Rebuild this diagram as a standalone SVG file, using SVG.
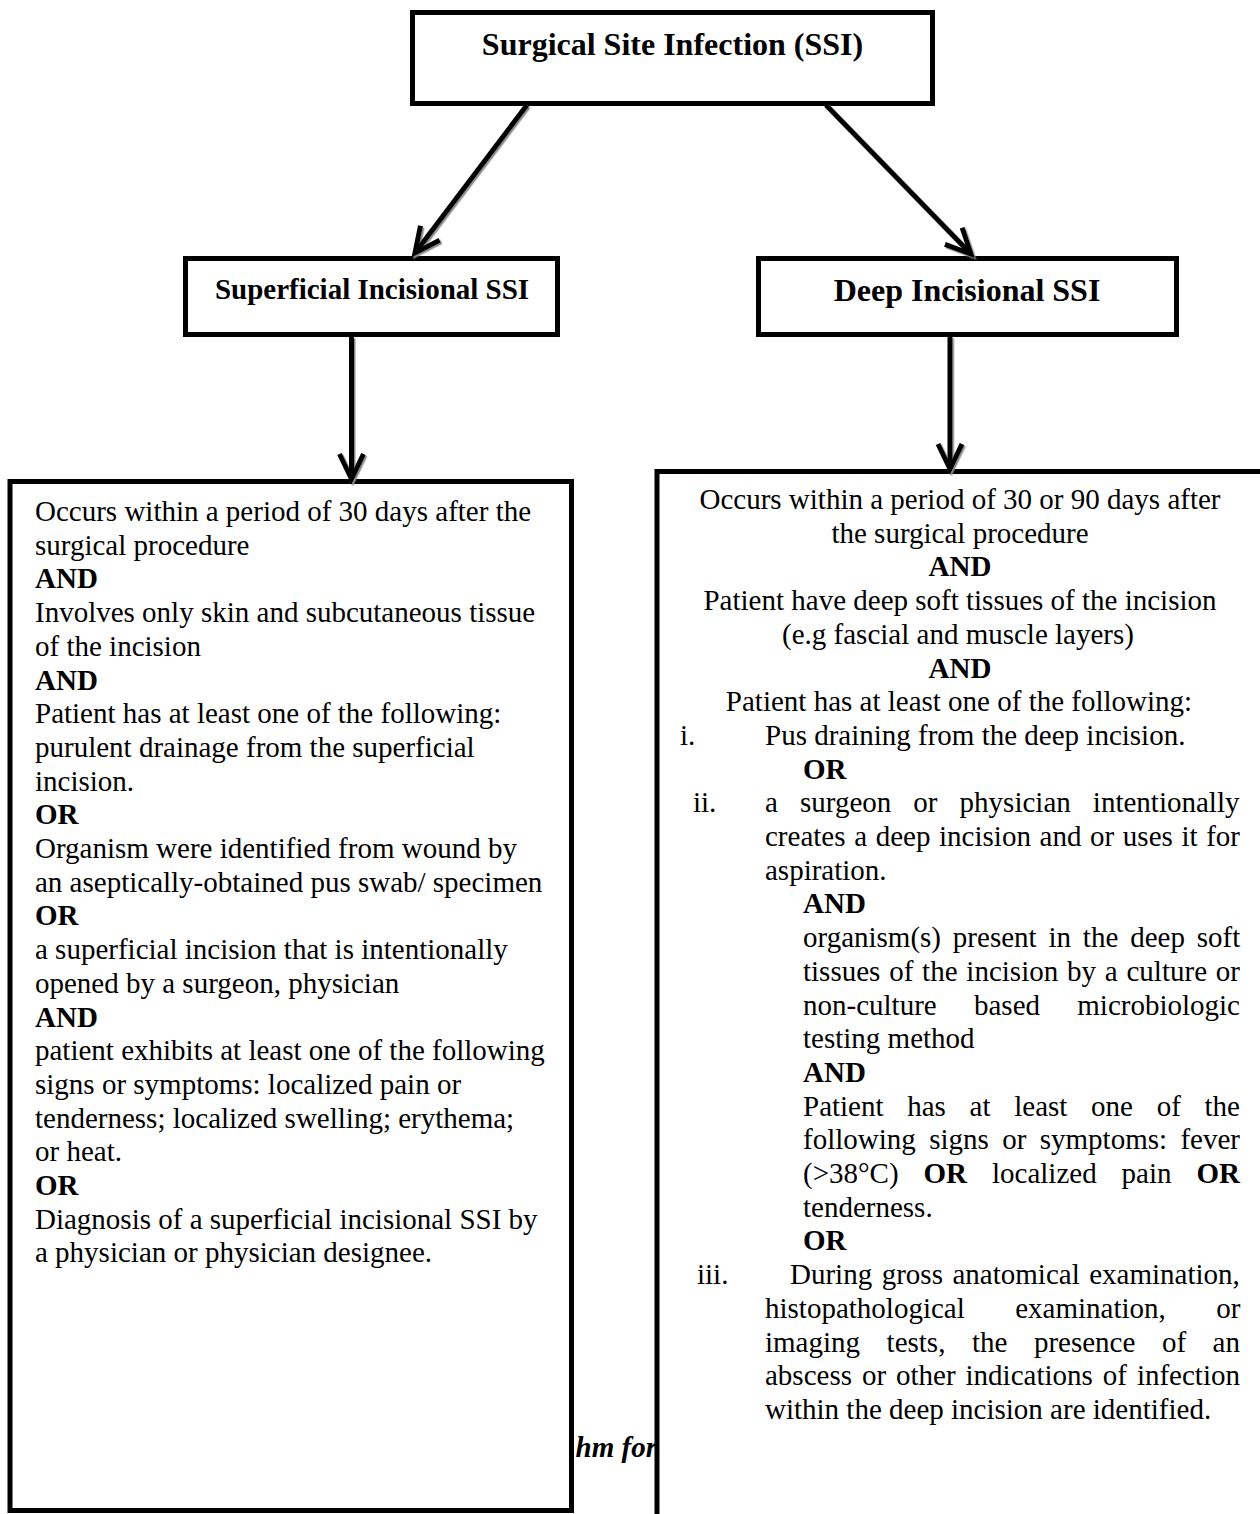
<svg xmlns="http://www.w3.org/2000/svg" width="1260" height="1514" viewBox="0 0 1260 1514">
<style>
.box{fill:#fff;stroke:#000;stroke-width:5}
.t{font-family:"Liberation Serif","Times New Roman",serif;font-size:29px;fill:#000}
.b{font-weight:bold}
.c{text-anchor:middle}
.h{font-family:"Liberation Serif","Times New Roman",serif;font-weight:bold;fill:#000;text-anchor:middle}
.conn{stroke:#000;stroke-width:5;fill:none}
</style>
<defs>
<marker id="arr" markerUnits="userSpaceOnUse" viewBox="-32 -17 38 34" markerWidth="38" markerHeight="34" refX="0" refY="0" orient="auto" overflow="visible">
<path d="M-25,-12 L0,0 L-25,12" fill="none" stroke="#000" stroke-width="5" stroke-linejoin="miter"/>
</marker>
<filter id="sh" x="-20%" y="-20%" width="140%" height="140%">
<feDropShadow dx="1.5" dy="1.5" stdDeviation="0.6" flood-color="#888" flood-opacity="1"/>
</filter>
</defs>
<rect width="1260" height="1514" fill="#fff"/>

<text class="t b" x="657" y="1457" font-size="31" font-style="italic" text-anchor="end">hm for</text>

<g id="n-ssi">
<rect class="box" x="412.5" y="12.5" width="520" height="91"/>
<text class="h" x="672.5" y="55" font-size="32">Surgical Site Infection (SSI)</text>
</g>

<g id="n-superficial">
<rect class="box" x="185.5" y="258.5" width="372" height="76"/>
<text class="h" x="372" y="299" font-size="29">Superficial Incisional SSI</text>
</g>

<g id="n-deep">
<rect class="box" x="758.5" y="258.5" width="418" height="76"/>
<text class="h" x="967" y="301" font-size="32">Deep Incisional SSI</text>
</g>

<g id="n-superficial-criteria">
<rect class="box" x="10" y="481.5" width="561.5" height="1029"/>
<text class="t" x="35" y="521">Occurs within a period of 30 days after the</text>
<text class="t" x="35" y="554.7">surgical procedure</text>
<text class="t b" x="35" y="588.4">AND</text>
<text class="t" x="35" y="622.1">Involves only skin and subcutaneous tissue</text>
<text class="t" x="35" y="655.8">of the incision</text>
<text class="t b" x="35" y="689.5">AND</text>
<text class="t" x="35" y="723.2">Patient has at least one of the following:</text>
<text class="t" x="35" y="756.9">purulent drainage from the superficial</text>
<text class="t" x="35" y="790.6">incision.</text>
<text class="t b" x="35" y="824.3">OR</text>
<text class="t" x="35" y="858">Organism were identified from wound by</text>
<text class="t" x="35" y="891.7">an aseptically-obtained pus swab/ specimen</text>
<text class="t b" x="35" y="925.4">OR</text>
<text class="t" x="35" y="959.1">a superficial incision that is intentionally</text>
<text class="t" x="35" y="992.8">opened by a surgeon, physician</text>
<text class="t b" x="35" y="1026.5">AND</text>
<text class="t" x="35" y="1060.2">patient exhibits at least one of the following</text>
<text class="t" x="35" y="1093.9">signs or symptoms: localized pain or</text>
<text class="t" x="35" y="1127.6">tenderness; localized swelling; erythema;</text>
<text class="t" x="35" y="1161.3">or heat.</text>
<text class="t b" x="35" y="1195">OR</text>
<text class="t" x="35" y="1228.7">Diagnosis of a superficial incisional SSI by</text>
<text class="t" x="35" y="1262.4">a physician or physician designee.</text>
</g>

<g id="n-deep-criteria">
<rect class="box" x="657" y="471.5" width="700" height="1100"/>
<text class="t c" x="960" y="509">Occurs within a period of 30 or 90 days after</text>
<text class="t c" x="960" y="542.7">the surgical procedure</text>
<text class="t b c" x="960" y="576.4">AND</text>
<text class="t c" x="960" y="610.1">Patient have deep soft tissues of the incision</text>
<text class="t c" x="958" y="643.8">(e.g fascial and muscle layers)</text>
<text class="t b c" x="960" y="677.5">AND</text>
<text class="t c" x="959" y="711.2">Patient has at least one of the following:</text>
<text class="t" x="680" y="744.9">i.</text>
<text class="t" x="765" y="744.9">Pus draining from the deep incision.</text>
<text class="t b" x="803" y="778.6">OR</text>
<text class="t" x="693" y="812.3">ii.</text>
<text class="t" x="765" y="812.3" word-spacing="14.85">a surgeon or physician intentionally</text>
<text class="t" x="765" y="846" word-spacing="1.4">creates a deep incision and or uses it for</text>
<text class="t" x="765" y="879.7">aspiration.</text>
<text class="t b" x="803" y="913.4">AND</text>
<text class="t" x="803" y="947.1" word-spacing="4.6">organism(s) present in the deep soft</text>
<text class="t" x="803" y="980.8" word-spacing="1.56">tissues of the incision by a culture or</text>
<text class="t" x="803" y="1014.5" word-spacing="30.05">non-culture based microbiologic</text>
<text class="t" x="803" y="1048.2">testing method</text>
<text class="t b" x="803" y="1081.9">AND</text>
<text class="t" x="803" y="1115.6" word-spacing="16.45">Patient has at least one of the</text>
<text class="t" x="803" y="1149.3" word-spacing="6.15">following signs or symptoms: fever</text>
<text class="t" x="803" y="1183" word-spacing="17.7">(&gt;38°C) <tspan class="b">OR</tspan> localized pain <tspan class="b">OR</tspan></text>
<text class="t" x="803" y="1216.7">tenderness.</text>
<text class="t b" x="803" y="1250.4">OR</text>
<text class="t" x="697" y="1284.1">iii.</text>
<text class="t" x="790" y="1284.1" word-spacing="2.3">During gross anatomical examination,</text>
<text class="t" x="765" y="1317.8" word-spacing="43.25">histopathological examination, or</text>
<text class="t" x="765" y="1351.5" word-spacing="19.3">imaging tests, the presence of an</text>
<text class="t" x="765" y="1385.2" word-spacing="2.7">abscess or other indications of infection</text>
<text class="t" x="765" y="1418.9">within the deep incision are identified.</text>
</g>

<g id="connectors" filter="url(#sh)">
<line class="conn" x1="527" y1="105" x2="415" y2="253" marker-end="url(#arr)"/>
<line class="conn" x1="826" y1="105" x2="971" y2="254" marker-end="url(#arr)"/>
<line class="conn" x1="351.5" y1="337" x2="351.5" y2="479" marker-end="url(#arr)"/>
<line class="conn" x1="950" y1="337" x2="950" y2="469" marker-end="url(#arr)"/>
</g>
</svg>
